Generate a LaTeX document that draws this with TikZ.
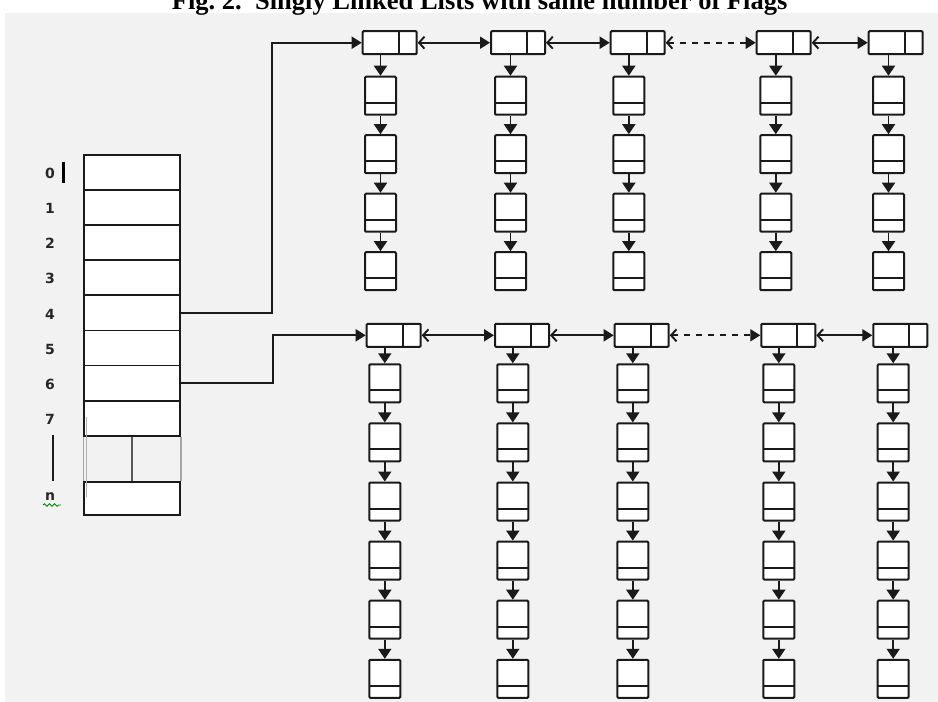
\documentclass[tikz,border=0pt]{standalone}
\usepackage{fontspec}
\setmainfont{Liberation Serif}
\newfontfamily\labfont{DejaVu Sans}
\usetikzlibrary{arrows.meta,decorations.pathmorphing}
\definecolor{bg}{HTML}{F2F2F2}
\definecolor{ink}{HTML}{1A1A1A}
\begin{document}
\begin{tikzpicture}[x=1pt,y=-1pt,
  hdr/.style={draw=ink, fill=white, line width=2pt, rounded corners=1pt,
    minimum width=54pt, minimum height=23pt, inner sep=0pt,
    path picture={\draw[ink,line width=2pt]
      ([xshift=9pt]path picture bounding box.north) -- ([xshift=9pt]path picture bounding box.south);}},
  kid/.style={draw=ink, fill=white, line width=2pt, rounded corners=1pt,
    minimum width=31pt, minimum height=38pt, inner sep=0pt,
    path picture={\draw[ink,line width=2pt]
      ([yshift=-7pt]path picture bounding box.west) -- ([yshift=-7pt]path picture bounding box.east);}},
  cell/.style={draw=ink, fill=white, line width=1.8pt, minimum width=95.7pt,
    minimum height=35.09pt, inner sep=0pt},
  lab/.style={font=\labfont\bfseries\fontsize{14}{16}\selectfont, text=black!85, inner sep=0pt},
  down/.style={draw=ink, line width=1.9pt, -{Triangle[length=10pt,width=13pt]}},
  link/.style={draw=ink, line width=1.9pt,
    {Straight Barb[length=5.5pt,width=12pt]}-{Triangle[length=10pt,width=12pt]}},
  feed/.style={draw=ink, line width=1.9pt, -{Triangle[length=10pt,width=12pt]}}
]
\useasboundingbox (0,0) rectangle (938,702);
\clip (0,0) rectangle (938,702);
\fill[bg] (5,13.3) rectangle (938,702);

% title (upper part cut off, as in the reference)
\node[anchor=base west, inner sep=0pt, font=\bfseries\fontsize{26.5}{30}\selectfont\frenchspacing] (title)
  at (171.7,9.3) {Fig. 2.\ \ Singly Linked Lists with same number of Flags};

% ---- table ----
\foreach \k in {0,...,7}{
  \node[cell] (r\k) at (132.15,{172.55+35.09*\k}) {};
}
\node[cell, minimum height=33.3pt] (rn) at (132.15,498.35) {};
\draw[black!35, line width=1.2pt] (r7.south west) -- (rn.north west);
\draw[black!35, line width=1.2pt] (r7.south east) -- (rn.north east);
\draw[black!65, line width=1.8pt] (r7.south) -- (rn.north);
\draw[black!30, line width=0.8pt] (86,417) -- (86,497);

% labels
\foreach \k in {0,...,7}{
  \node[lab] (l\k) at (50,{172.55+35.09*\k+1}) {\k};
}
\node[lab] (ln) at (50,497) {n};
\draw[black, line width=2.6pt] (63.3,161.7) -- (63.3,183.3);
\draw[ink, line width=2pt] (52.7,435) -- (52.7,481);
\draw[green!55!black, line width=0.9pt, decorate,
  decoration={snake, amplitude=1.3pt, segment length=5pt}] (43,505) -- (61,505);

% ---- top lists ----
\foreach \i/\hx/\cx in {1/389.7/380.5, 2/518/510.5, 3/637.7/628.8, 4/783.7/775.8, 5/895.7/888.5}{
  \node[hdr] (T\i) at (\hx,42.7) {};
  \foreach \k in {1,...,4}{
    \node[kid] (T\i-\k) at (\cx,{95.7+58.5*(\k-1)}) {};
  }
  \draw[down] (T\i.south -| T\i-1.north) -- (T\i-1.north);
  \foreach \k in {1,...,3}{
    \pgfmathtruncatemacro\nk{\k+1}
    \draw[down] (T\i-\k.south) -- (T\i-\nk.north);
  }
}
\draw[link] (T1.east) -- (T2.west);
\draw[link] (T2.east) -- (T3.west);
\draw[link, dash pattern=on 6pt off 6pt] (T3.east) -- (T4.west);
\draw[link] (T4.east) -- (T5.west);

% ---- bottom lists ----
\foreach \i/\hx/\cx in {1/393.7/384.8, 2/522/512.8, 3/641.7/632.8, 4/788.3/778.8, 5/900.3/893.2}{
  \node[hdr] (B\i) at (\hx,335.3) {};
  \foreach \k in {1,...,6}{
    \node[kid] (B\i-\k) at (\cx,{383.3+59.1*(\k-1)}) {};
  }
  \draw[down] (B\i.south -| B\i-1.north) -- (B\i-1.north);
  \foreach \k in {1,...,5}{
    \pgfmathtruncatemacro\nk{\k+1}
    \draw[down] (B\i-\k.south) -- (B\i-\nk.north);
  }
}
\draw[link] (B1.east) -- (B2.west);
\draw[link] (B2.east) -- (B3.west);
\draw[link, dash pattern=on 6pt off 6pt] (B3.east) -- (B4.west);
\draw[link] (B4.east) -- (B5.west);

% ---- table to lists ----
\coordinate (k1) at (271.7,0);
\coordinate (k2) at (273.3,0);
\draw[feed, line join=miter] (r4.east) -- (r4.east -| k1) |- (T1.west);
\draw[feed, line join=miter] (r6.east) -- (r6.east -| k2) |- (B1.west);
\end{tikzpicture}
\end{document}
